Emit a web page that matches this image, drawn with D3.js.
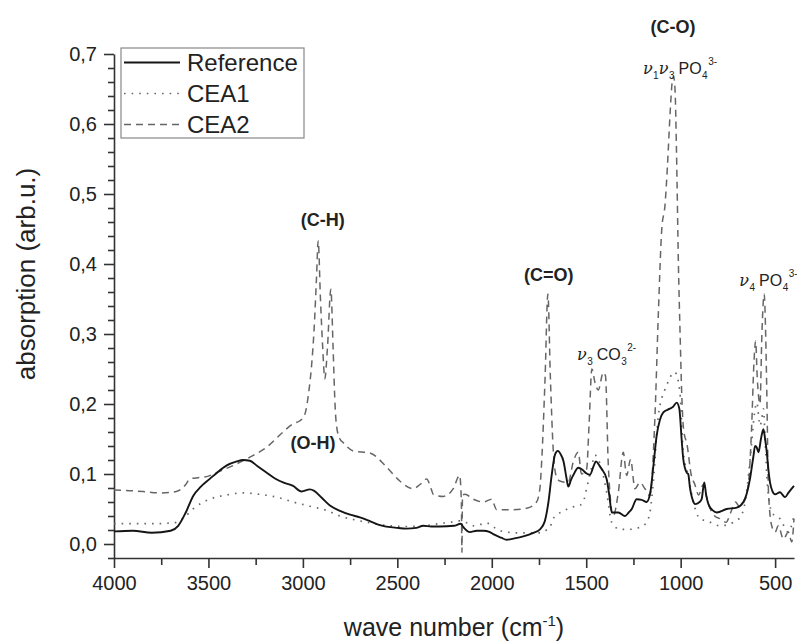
<!DOCTYPE html>
<html>
<head>
<meta charset="utf-8">
<script src="https://cdn.jsdelivr.net/npm/d3@7"></script>
<style>
  body { margin: 0; background: #fff; }
  svg { display: block; font-family: "Liberation Sans", Arial, sans-serif; }
  .axis path, .axis line { stroke: #333; stroke-width: 1.6; }
  .axis text { fill: #222; font-size: 20px; font-family: "Liberation Sans", Arial, sans-serif; }
  .note { fill: #222; font-weight: bold; font-size: 18px; }
  .nu { font-family: "DejaVu Serif", "Liberation Serif", serif; font-style: italic; }
</style>
</head>
<body>
<div id="chart"></div>
<script>
// FTIR spectra: wave number (cm-1) vs absorption
const referenceSpec = [
  [4000, 0.018], [3900, 0.019], [3800, 0.016], [3700, 0.019], [3660, 0.026], [3620, 0.045],
  [3580, 0.069], [3540, 0.082], [3493, 0.093], [3450, 0.103], [3405, 0.112], [3350, 0.118],
  [3317, 0.120], [3281, 0.119], [3240, 0.111], [3193, 0.102], [3150, 0.094], [3105, 0.088],
  [3052, 0.083], [3007, 0.075], [2963, 0.078], [2940, 0.076], [2900, 0.066], [2857, 0.055],
  [2800, 0.047], [2750, 0.042], [2698, 0.038], [2640, 0.032], [2592, 0.027], [2500, 0.023],
  [2451, 0.022], [2400, 0.023], [2363, 0.026], [2320, 0.025], [2275, 0.025], [2200, 0.026],
  [2165, 0.029], [2150, 0.024], [2116, 0.017], [2080, 0.019], [2045, 0.019], [2010, 0.017],
  [1992, 0.014], [1950, 0.009], [1921, 0.006], [1880, 0.008], [1833, 0.011], [1780, 0.016],
  [1745, 0.021], [1720, 0.032], [1700, 0.060], [1683, 0.098], [1665, 0.128], [1650, 0.133],
  [1635, 0.128], [1620, 0.118], [1605, 0.095], [1595, 0.082], [1580, 0.092], [1569, 0.098],
  [1542, 0.109], [1520, 0.106], [1500, 0.101], [1480, 0.099], [1460, 0.112], [1449, 0.118],
  [1430, 0.112], [1418, 0.107], [1392, 0.093], [1378, 0.070], [1365, 0.045], [1330, 0.045],
  [1295, 0.040], [1275, 0.045], [1259, 0.050], [1233, 0.064], [1206, 0.063], [1180, 0.060],
  [1160, 0.075], [1145, 0.110], [1127, 0.155], [1110, 0.177], [1092, 0.188], [1060, 0.193],
  [1040, 0.196], [1021, 0.202], [1007, 0.193], [995, 0.150], [986, 0.121], [968, 0.102],
  [960, 0.100], [951, 0.081], [935, 0.062], [924, 0.057], [900, 0.060], [889, 0.064],
  [875, 0.088], [865, 0.070], [853, 0.057], [830, 0.048], [809, 0.045], [756, 0.050],
  [703, 0.052], [668, 0.060], [650, 0.072], [633, 0.093], [615, 0.125], [606, 0.140],
  [597, 0.138], [588, 0.131], [575, 0.150], [562, 0.164], [553, 0.150], [544, 0.131],
  [535, 0.105], [527, 0.088], [515, 0.076], [500, 0.071], [474, 0.074], [460, 0.070],
  [447, 0.067], [430, 0.073], [400, 0.083]
];

const cea1Spec = [
  [4000, 0.029], [3800, 0.029], [3700, 0.030], [3670, 0.031], [3620, 0.040], [3582, 0.050],
  [3540, 0.058], [3493, 0.064], [3405, 0.070], [3317, 0.073], [3229, 0.071], [3140, 0.067],
  [3052, 0.060], [2963, 0.054], [2875, 0.048], [2804, 0.040], [2698, 0.033], [2620, 0.029],
  [2539, 0.026], [2450, 0.025], [2363, 0.026], [2280, 0.029], [2222, 0.031], [2169, 0.033],
  [2130, 0.030], [2098, 0.026], [2060, 0.028], [2028, 0.030], [1990, 0.024], [1957, 0.019],
  [1869, 0.016], [1800, 0.016], [1745, 0.016], [1710, 0.020], [1692, 0.024], [1675, 0.036],
  [1648, 0.043], [1620, 0.047], [1587, 0.052], [1534, 0.055], [1510, 0.065], [1498, 0.079],
  [1475, 0.105], [1454, 0.127], [1435, 0.120], [1418, 0.107], [1392, 0.074], [1365, 0.031],
  [1321, 0.021], [1268, 0.021], [1215, 0.024], [1180, 0.031], [1160, 0.050], [1145, 0.088],
  [1118, 0.183], [1083, 0.221], [1060, 0.235], [1040, 0.245], [1030, 0.245], [1004, 0.217],
  [986, 0.131], [960, 0.098], [933, 0.060], [898, 0.036], [862, 0.033], [791, 0.026],
  [721, 0.031], [680, 0.040], [659, 0.060], [640, 0.100], [624, 0.145], [610, 0.185],
  [597, 0.202], [580, 0.169], [570, 0.180], [562, 0.193], [553, 0.150], [544, 0.098],
  [530, 0.060], [518, 0.045], [474, 0.036], [430, 0.017], [415, 0.025], [400, 0.040]
];

const cea2Spec = [
  [4000, 0.077], [3900, 0.076], [3846, 0.075], [3758, 0.073], [3670, 0.075], [3620, 0.085],
  [3599, 0.093], [3546, 0.095], [3500, 0.097], [3458, 0.102], [3370, 0.112], [3281, 0.124],
  [3193, 0.138], [3105, 0.160], [3050, 0.172], [3016, 0.176], [2990, 0.185], [2970, 0.215],
  [2954, 0.255], [2940, 0.310], [2928, 0.380], [2919, 0.433], [2907, 0.350], [2895, 0.280],
  [2884, 0.236], [2870, 0.280], [2852, 0.364], [2840, 0.279], [2830, 0.200], [2822, 0.169],
  [2804, 0.150], [2787, 0.145], [2734, 0.133], [2645, 0.130], [2557, 0.110], [2487, 0.090],
  [2416, 0.079], [2380, 0.085], [2345, 0.093], [2320, 0.078], [2310, 0.071], [2257, 0.068],
  [2204, 0.079], [2170, 0.098], [2161, 0.060], [2158, -0.012], [2155, 0.070], [2142, 0.071],
  [2098, 0.064], [2045, 0.060], [2001, 0.064], [1974, 0.049], [1886, 0.049], [1815, 0.051],
  [1763, 0.060], [1745, 0.080], [1736, 0.117], [1718, 0.236], [1703, 0.357], [1690, 0.240],
  [1675, 0.136], [1660, 0.098], [1640, 0.090], [1595, 0.088], [1569, 0.117], [1542, 0.131],
  [1525, 0.100], [1498, 0.107], [1485, 0.170], [1470, 0.250], [1454, 0.231], [1436, 0.220],
  [1410, 0.245], [1398, 0.240], [1383, 0.112], [1357, 0.040], [1330, 0.074], [1304, 0.131],
  [1286, 0.098], [1265, 0.121], [1242, 0.079], [1216, 0.088], [1189, 0.079], [1163, 0.069],
  [1136, 0.183], [1118, 0.330], [1100, 0.450], [1083, 0.484], [1070, 0.540], [1055, 0.620],
  [1045, 0.660], [1038, 0.668], [1030, 0.650], [1022, 0.560], [1012, 0.400], [1003, 0.300],
  [995, 0.220], [985, 0.165], [965, 0.140], [945, 0.100], [925, 0.085], [905, 0.070],
  [880, 0.085], [870, 0.075], [850, 0.055], [820, 0.040], [790, 0.036], [760, 0.031],
  [735, 0.045], [710, 0.060], [690, 0.054], [665, 0.060], [640, 0.090], [624, 0.169],
  [612, 0.260], [603, 0.290], [595, 0.240], [580, 0.200], [570, 0.300], [558, 0.357],
  [550, 0.300], [544, 0.217], [535, 0.074], [518, 0.026], [500, 0.017], [483, 0.026],
  [456, 0.007], [430, 0.017], [412, 0.003], [400, 0.036]
];

const seriesNames = ['Reference', 'CEA1', 'CEA2'];
const xMajorTicks = [4000, 3500, 3000, 2500, 2000, 1500, 1000, 500];
const yMajorTicks = [0, 0.1, 0.2, 0.3, 0.4, 0.5, 0.6, 0.7];

// band labels anchored in data units (wave number, absorption)
const bandNotes = [
  { w: 2895, a: 0.454, parts: [{ t: '(C-H)' }], bold: true },
  { w: 2947, a: 0.136, parts: [{ t: '(O-H)' }], bold: true },
  { w: 1698, a: 0.376, parts: [{ t: '(C=O)' }], bold: true },
  { w: 1040, a: 0.730, parts: [{ t: '(C-O)' }], bold: true },
  { w: 1200, a: 0.671, parts: [{ t: 'ν', nu: true }, { t: '1', sub: true }, { t: 'ν', nu: true }, { t: '3', sub: true }, { t: ' PO' }, { t: '4', sub: true }, { t: '3-', sup: true }] },
  { w: 1549, a: 0.263, parts: [{ t: 'ν', nu: true }, { t: '3', sub: true }, { t: ' CO' }, { t: '3', sub: true }, { t: '2-', sup: true }] },
  { w: 690, a: 0.369, parts: [{ t: 'ν', nu: true }, { t: '4', sub: true }, { t: ' PO' }, { t: '4', sub: true }, { t: '3-', sup: true }] }
];

const W = 797, H = 641;
const margin = { top: 54, right: 2, bottom: 83, left: 114 };

const svg = d3.select('#chart').append('svg')
  .attr('width', W)
  .attr('height', H);

const x = d3.scaleLinear().domain([4000, 400]).range([margin.left, W - margin.right - 1]);
const y = d3.scaleLinear().domain([-0.02, 0.7]).range([H - margin.bottom, margin.top]);

const commaFmt = d3.formatLocale({ decimal: ',', thousands: '.', grouping: [3], currency: ['', ''] }).format('.1f');

// minor ticks first so the major ones sit on top
const xMinor = d3.range(3750, 400, -500);
const yMinor = d3.range(-1, 36).map(i => i * 0.02).filter(v => Math.abs(v * 10 - Math.round(v * 10)) > 1e-6);

svg.append('g')
  .attr('class', 'axis')
  .attr('transform', `translate(0,${y(-0.02)})`)
  .call(d3.axisBottom(x).tickValues(xMinor).tickSize(7).tickSizeOuter(0).tickFormat(''))
  .select('.domain').remove();

svg.append('g')
  .attr('class', 'axis')
  .attr('transform', `translate(${x(4000)},0)`)
  .call(d3.axisLeft(y).tickValues(yMinor).tickSize(6).tickSizeOuter(0).tickFormat(''))
  .select('.domain').remove();

svg.append('g')
  .attr('class', 'axis')
  .attr('transform', `translate(0,${y(-0.02)})`)
  .call(d3.axisBottom(x).tickValues(xMajorTicks).tickSize(10).tickSizeOuter(0).tickPadding(8).tickFormat(d3.format('d')));

svg.append('g')
  .attr('class', 'axis')
  .attr('transform', `translate(${x(4000)},0)`)
  .call(d3.axisLeft(y).tickValues(yMajorTicks).tickSize(10).tickSizeOuter(0).tickPadding(7).tickFormat(commaFmt));

// spectra
const line = d3.line()
  .x(d => x(d[0]))
  .y(d => y(d[1]))
  .curve(d3.curveMonotoneX);

const styles = [
  { color: '#151515', width: 1.9, dash: null },
  { color: '#6a6a6a', width: 1.7, dash: '1.6,6' },
  { color: '#666', width: 1.5, dash: '7,5' }
];
const specs = [referenceSpec, cea1Spec, cea2Spec];

// draw CEA2 and CEA1 under the reference
[2, 1, 0].forEach(i => {
  svg.append('path')
    .datum(specs[i])
    .attr('fill', 'none')
    .attr('stroke', styles[i].color)
    .attr('stroke-width', styles[i].width)
    .attr('stroke-dasharray', styles[i].dash)
    .attr('stroke-linejoin', 'round')
    .attr('d', line);
});

// axis titles
const xTitle = svg.append('text')
  .attr('x', (x(4000) + x(400)) / 2)
  .attr('y', 636)
  .attr('text-anchor', 'middle')
  .attr('font-size', 25)
  .attr('fill', '#222');
xTitle.append('tspan').text('wave number (cm');
xTitle.append('tspan').attr('dy', -10).attr('font-size', 15).text('-1');
xTitle.append('tspan').attr('dy', 10).text(')');

svg.append('text')
  .attr('transform', 'translate(35,274) rotate(-90)')
  .attr('text-anchor', 'middle')
  .attr('font-size', 26)
  .attr('fill', '#222')
  .text('absorption (arb.u.)');

// legend
const legend = svg.append('g').attr('transform', 'translate(121,48)');
legend.append('rect')
  .attr('width', 183)
  .attr('height', 90)
  .attr('fill', '#fff')
  .attr('stroke', '#888')
  .attr('stroke-width', 1.2);

seriesNames.forEach((name, i) => {
  const row = legend.append('g').attr('transform', `translate(0,${14.5 + i * 31})`);
  row.append('line')
    .attr('x1', 3).attr('x2', 59)
    .attr('stroke', styles[i].color)
    .attr('stroke-width', styles[i].width)
    .attr('stroke-dasharray', styles[i].dash);
  row.append('text')
    .attr('x', 66)
    .attr('y', 8.5)
    .attr('font-size', 24)
    .attr('fill', '#222')
    .text(name);
});

// band annotations
bandNotes.forEach(n => {
  const t = svg.append('text')
    .attr('x', x(n.w))
    .attr('y', y(n.a))
    .attr('text-anchor', n.bold ? 'middle' : 'start')
    .attr('class', n.bold ? 'note' : null)
    .attr('fill', '#222')
    .attr('font-size', n.bold ? 18 : 16);
  let shift = 0;
  n.parts.forEach(p => {
    let target = 0, size = null;
    if (p.sub) { target = 5; size = 10; }
    if (p.sup) { target = -9; size = 10; }
    const text = p.t === ' PO' || p.t === ' CO' ? p.t.slice(1) : p.t;
    const ts = t.append('tspan').attr('dy', target - shift).text(text);
    if (size) ts.attr('font-size', size).attr('dx', 0.5);
    if (text !== p.t) ts.attr('dx', 4);
    if (p.nu) ts.attr('class', 'nu');
    shift = target;
  });
});
</script>
</body>
</html>
